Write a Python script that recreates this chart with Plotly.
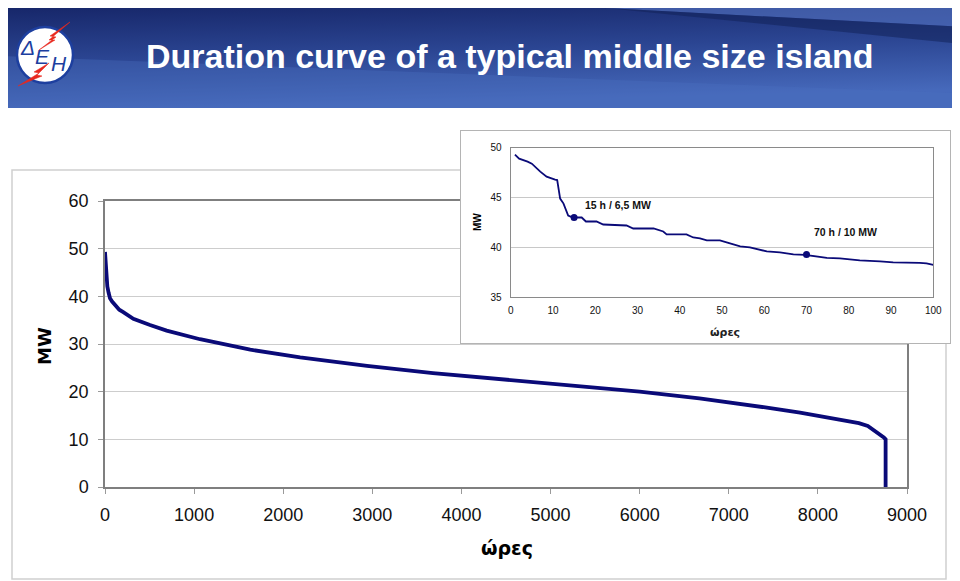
import base64
import plotly.graph_objects as go

W, H = 960, 581
OFF = 8  # the page body offsets the figure by 8 px; compensate

# ---------------- data ----------------
main_hours = [0, 10, 15, 20, 26, 40, 56, 80, 112, 160, 205, 318, 505, 692, 1066, 1440,
              1630, 2190, 2940, 3680, 4430, 5440, 6000, 6670, 7130, 7410, 7800, 8160,
              8460, 8560, 8650, 8740, 8760, 8760]
main_mw = [49.3, 46.8, 43.0, 42.6, 42.1, 40.8, 39.6, 38.9, 38.2, 37.2, 36.7, 35.3, 34.0,
           32.8, 31.0, 29.6, 28.8, 27.2, 25.4, 23.9, 22.6, 20.9, 20.0, 18.6, 17.5, 16.7,
           15.6, 14.5, 13.4, 12.8, 11.7, 10.4, 10.0, 0]

inset_hours = [1, 2, 4, 5, 7, 8.5, 10.5, 11, 11.7, 12.5, 13.6, 14.7, 16.8, 17.8, 20.3, 21.9,
               27.4, 29, 33.8, 36.1, 36.9, 41.6, 43.2, 44.8, 46.4, 49.5, 52.7, 54.3, 56.6,
               59.8, 60.6, 63.7, 66.9, 69.6, 73.2, 74.8, 77.9, 82.6, 87.4, 90.5, 96.8, 98.4, 100]
inset_mw = [49.3, 48.9, 48.6, 48.4, 47.6, 47.1, 46.8, 46.75, 44.9, 44.4, 43.2, 43.0, 43.0,
            42.6, 42.6, 42.3, 42.2, 41.9, 41.9, 41.6, 41.3, 41.3, 41.0, 40.9, 40.7, 40.7,
            40.3, 40.1, 40.0, 39.7, 39.6, 39.5, 39.3, 39.26, 39.1, 38.96, 38.9, 38.7, 38.6,
            38.5, 38.46, 38.4, 38.25]

marker_hours = [15, 70]
marker_mw = [43.0, 39.3]
marker_labels = ["15 h / 6,5 MW", "70 h / 10 MW"]
label_x = [25.3, 79.3]
label_y = [44.25, 41.57]

main_title = "Duration curve of a typical middle size island"
x_title = "ώρες"
y_title = "MW"
logo_letters = ["Δ", "Ε", "Η"]

NAVY = "#0a0a78"
ARIAL = "Liberation Sans"


def px(x):
    return (x - OFF) / W


def py(y):
    return 1 - (y - OFF) / H


fig = go.Figure()

fig.add_trace(go.Scatter(x=main_hours, y=main_mw, mode="lines",
                         line=dict(color=NAVY, width=3.8), xaxis="x", yaxis="y",
                         showlegend=False, hoverinfo="skip"))
# dummy subplot providing the white inset panel
fig.add_trace(go.Scatter(x=[], y=[], xaxis="x2", yaxis="y2", showlegend=False))
fig.add_trace(go.Scatter(x=inset_hours, y=inset_mw, mode="lines",
                         line=dict(color=NAVY, width=1.8), xaxis="x3", yaxis="y3",
                         showlegend=False, hoverinfo="skip"))
fig.add_trace(go.Scatter(x=marker_hours, y=marker_mw, mode="markers",
                         marker=dict(color=NAVY, size=7), xaxis="x3", yaxis="y3",
                         showlegend=False, hoverinfo="skip"))

# banner svg
svg = """<svg xmlns="http://www.w3.org/2000/svg" width="951" height="108" viewBox="0 0 951 108" preserveAspectRatio="none">
<defs><linearGradient id="g" x1="0" y1="0" x2="0.25" y2="1">
<stop offset="0" stop-color="#17276a"/><stop offset="0.5" stop-color="#2b4592"/><stop offset="1" stop-color="#4669bb"/>
</linearGradient></defs>
<rect width="951" height="108" fill="url(#g)"/>
<polygon points="0,52 951,92 951,108 0,108" fill="#4a6fc0" fill-opacity="0.35"/>
<polygon points="600,0 951,0 951,20" fill="#5676c4" fill-opacity="0.6"/>
<polygon points="600,0 951,20 951,38" fill="#13235a" fill-opacity="0.55"/>
</svg>"""
src = "data:image/svg+xml;base64," + base64.b64encode(svg.encode()).decode()

shapes = [
    # outer chart frame
    dict(type="rect", xref="paper", yref="paper", x0=px(12), x1=px(946), y0=py(579), y1=py(170),
         line=dict(color="#d0d0d0", width=1.5), fillcolor="rgba(0,0,0,0)", layer="below"),
    # logo circle
    dict(type="circle", xref="paper", yref="paper", x0=px(17), x1=px(73), y0=py(83), y1=py(27),
         line=dict(color="#1d3f9f", width=2.5), fillcolor="white", layer="above"),
]


def poly(points):
    s = "M " + " L ".join(f"{px(a):.5f},{py(b):.5f}" for a, b in points) + " Z"
    return dict(type="path", xref="paper", yref="paper", path=s,
                fillcolor="#e8281e", line=dict(color="#e8281e", width=0.5), layer="above")


shapes.append(poly([(70, 22), (50, 36), (56, 37), (39, 50), (55, 40), (49, 40)]))
shapes.append(poly([(49, 63), (34, 72), (39, 73), (18, 86), (42, 76), (37, 75)]))

annotations = [
    dict(text=f"<b>{main_title}</b>", xref="paper", yref="paper", x=px(509.5), y=py(56),
         xanchor="center", yanchor="middle", showarrow=False,
         font=dict(family=ARIAL, size=34, color="white")),
    dict(text=f"<b>{y_title}</b>", xref="paper", yref="paper", x=px(44), y=py(346),
         textangle=-90, showarrow=False, xanchor="center", yanchor="middle",
         font=dict(family="DejaVu Sans", size=18, color="black")),
    dict(text=f"<b>{x_title}</b>", xref="paper", yref="paper", x=px(507), y=py(548),
         showarrow=False, xanchor="center", yanchor="middle",
         font=dict(family="DejaVu Sans", size=19, color="black")),
    dict(text=f"<b>{y_title}</b>", xref="paper", yref="paper", x=px(478), y=py(222),
         textangle=-90, showarrow=False, xanchor="center", yanchor="middle",
         font=dict(family=ARIAL, size=10, color="black")),
    dict(text=f"<b>{x_title}</b>", xref="paper", yref="paper", x=px(725), y=py(332),
         showarrow=False, xanchor="center", yanchor="middle",
         font=dict(family="DejaVu Sans", size=11, color="#222")),
]
for letter, lx, ly in zip(logo_letters, [27, 42, 59], [48, 57, 63]):
    annotations.append(dict(text=f"<i>{letter}</i>", xref="paper", yref="paper",
                            x=px(lx), y=py(ly), showarrow=False, xanchor="center",
                            yanchor="middle",
                            font=dict(family=ARIAL, size=21, color="#1d3f9f")))
for t, lx, ly in zip(marker_labels, label_x, label_y):
    annotations.append(dict(text=f"<b>{t}</b>", xref="x3", yref="y3", x=lx, y=ly,
                            showarrow=False, xanchor="center", yanchor="middle",
                            font=dict(family=ARIAL, size=10.5, color="#111")))

fig.update_layout(
    width=W, height=H, margin=dict(l=0, r=0, t=0, b=0, pad=0, autoexpand=False),
    autosize=False,
    paper_bgcolor="white", plot_bgcolor="white",
    showlegend=False,
    images=[dict(source=src, xref="paper", yref="paper", x=0, y=1, sizex=947 / W,
                 sizey=100 / H, xanchor="left", yanchor="top", sizing="stretch", layer="below")],
    shapes=shapes,
    annotations=annotations,
    xaxis=dict(domain=[px(105), px(907)], anchor="y", range=[0, 9000], dtick=1000, tick0=0,
               showgrid=False, zeroline=False, showline=True, mirror=True,
               linecolor="#7f7f7f", linewidth=1.5, ticks="outside", ticklen=5,
               tickcolor="#9a9a9a", ticklabelstandoff=6, automargin=False,
               tickfont=dict(family=ARIAL, size=18, color="#111")),
    yaxis=dict(domain=[py(487), py(201)], anchor="x", range=[0, 60], dtick=10, tick0=0,
               showgrid=True, gridcolor="#cdcdcd", gridwidth=1, zeroline=False,
               showline=True, mirror=True, linecolor="#7f7f7f", linewidth=1.5,
               ticks="outside", ticklen=5, tickcolor="#9a9a9a", ticklabelstandoff=6,
               automargin=False, tickfont=dict(family=ARIAL, size=18, color="#111")),
    xaxis2=dict(domain=[px(461), px(950)], anchor="y2", range=[0, 1], showgrid=False,
                zeroline=False, showticklabels=False, ticks="", showline=True, mirror=True,
                linecolor="#b4b4b4", linewidth=1, automargin=False),
    yaxis2=dict(domain=[py(343), py(131)], anchor="x2", range=[0, 1], showgrid=False,
                zeroline=False, showticklabels=False, ticks="", showline=True, mirror=True,
                linecolor="#b4b4b4", linewidth=1, automargin=False),
    xaxis3=dict(domain=[px(510.7), px(933.3)], anchor="y3", range=[0, 100], dtick=10, tick0=0,
                showgrid=False, zeroline=False, showline=True, mirror=True,
                linecolor="#8a8a8a", linewidth=1, ticks="", ticklabelstandoff=4,
                automargin=False, tickfont=dict(family=ARIAL, size=10, color="#111")),
    yaxis3=dict(domain=[py(297.3), py(147.7)], anchor="x3", range=[35, 50], dtick=5, tick0=35,
                showgrid=True, gridcolor="#c8c8c8", gridwidth=1, zeroline=False,
                showline=True, mirror=True, linecolor="#8a8a8a", linewidth=1, ticks="",
                ticklabelstandoff=6, automargin=False,
                tickfont=dict(family=ARIAL, size=10, color="#111")),
)

fig.write_html("out.html")
